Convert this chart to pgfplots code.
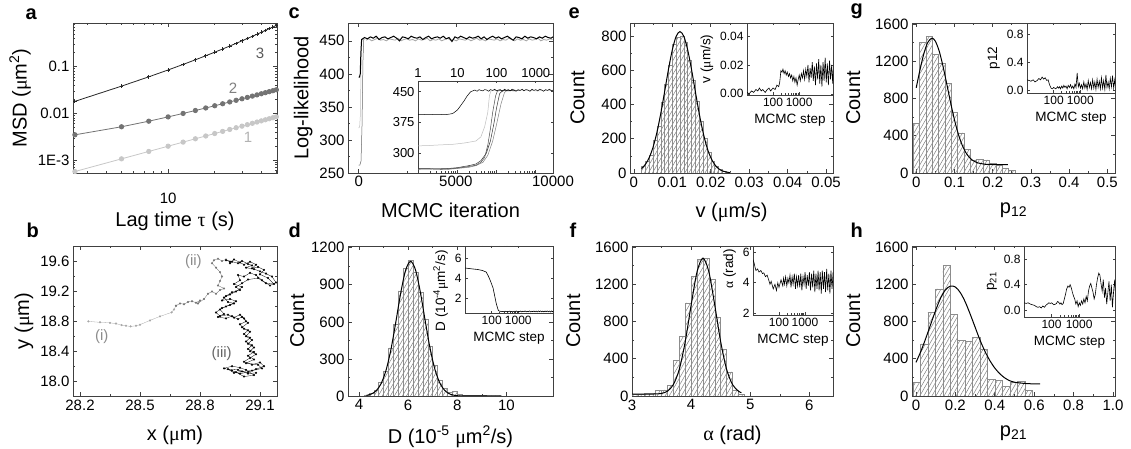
\documentclass[border=0pt]{standalone}
\usepackage{fontspec}
\setmainfont{Liberation Sans}
\newfontfamily\grk{Liberation Serif}
\usepackage{pgfplots}
\pgfplotsset{compat=1.18}
\usetikzlibrary{patterns.meta}

\newcommand{\um}{{\grk μ}m}

\pgfplotsset{
  fr/.style={
    scale only axis, anchor=north west,
    axis line style={black!75, line width=0.7pt},
    tick style={black!75, line width=0.6pt},
    tick align=inside, major tick length=4pt, minor tick length=2.2pt,
    tick label style={font=\fontsize{15}{16}\selectfont},
    label style={font=\fontsize{20}{22}\selectfont},
    /pgf/number format/assume math mode=true,
    /pgf/number format/1000 sep={},
    scaled ticks=false,
  },
  mn/.style={fr, xlabel shift=9pt},
  ins/.style={
    fr, axis background/.style={fill=white},
    tick label style={font=\fontsize{12}{13}\selectfont},
    label style={font=\fontsize{13.5}{14}\selectfont},
    major tick length=2.5pt, minor tick length=1.5pt,
  },
  mc/.style={ins, xmin=10, xmax=20000, xtick={100,1000},
    xticklabels={100,1000}, xlabel={MCMC step}},
  hist/.style={ybar interval, draw=black!45, line width=0.5pt,
    pattern={Lines[angle=60,distance=3.5pt,line width=0.5pt]}, pattern color=black!50},
  fit/.style={black, line width=1pt, smooth},
  tr/.style={black, line width=0.6pt},
  trj/.style={line width=0.3pt, mark=*, mark size=0.9pt},
}

\begin{document}
\begin{tikzpicture}
\path[use as bounding box] (0,0) rectangle (1131pt,449pt);

% panel letters
\begin{scope}[every node/.style={anchor=base west, font=\fontsize{20}{20}\selectfont\bfseries}]
\node at (22pt,429pt) {a};
\node at (285pt,430pt) {c};
\node at (565pt,430pt) {e};
\node at (847pt,434pt) {g};
\node at (23pt,211pt) {b};
\node at (285pt,211pt) {d};
\node at (566pt,211pt) {f};
\node at (847pt,211pt) {h};
\end{scope}

% ---------- a : MSD
\begin{axis}[fr, xlabel shift=2pt, at={(73pt,426pt)}, width=204pt, height=150pt,
  xmode=log, ymode=log, xmin=2.43, xmax=50.5, ymin=5.3e-4, ymax=0.86,
  xtick={10}, xticklabels={10}, minor xtick={3,4,5,6,7,8,9,20,30,40,50},
  ytick={0.001,0.01,0.1}, yticklabels={1E-3,0.01,0.1},
  minor ytick={6e-4,7e-4,8e-4,9e-4,0.002,0.003,0.004,0.005,0.006,0.007,0.008,0.009,0.02,0.03,0.04,0.05,0.06,0.07,0.08,0.09,0.2,0.3,0.4,0.5,0.6,0.7,0.8},
  xticklabel style={yshift=-16pt},
  xlabel={Lag time {\grk τ} (s)}, ylabel={MSD (\um\textsuperscript{2})}]
\addplot[black!22, line width=0.8pt, mark=*, mark size=2.2pt] coordinates {
(2.5,0.00057)(5,0.001064)(7.5,0.001533)(10,0.001986)(12.5,0.002428)(15,0.002861)(17.5,0.003286)(20,0.003705)(22.5,0.00412)(25,0.00453)(27.5,0.004935)(30,0.005337)(32.5,0.005736)(35,0.006132)(37.5,0.006525)(40,0.006915)(42.5,0.007303)(45,0.00769)(47.5,0.008073)(50,0.008453)};
\addplot[black!55, line width=0.8pt, mark=*, mark size=2.2pt] coordinates {
(2.5,0.00348)(5,0.00517)(7.5,0.00681)(10,0.00841)(12.5,0.00998)(15,0.01153)(17.5,0.01306)(20,0.01457)(22.5,0.01607)(25,0.01757)(27.5,0.01905)(30,0.02052)(32.5,0.02198)(35,0.02343)(37.5,0.02488)(40,0.02632)(42.5,0.02775)(45,0.02918)(47.5,0.0306)(50,0.03202)};
\addplot[black!85, line width=0.8pt, mark=+, mark size=1.8pt, mark options={line width=0.9pt}] coordinates {
(2.5,0.0181)(5,0.0383)(7.5,0.0606)(10,0.085)(12.5,0.1116)(15,0.1403)(17.5,0.1711)(20,0.204)(22.5,0.2391)(25,0.2763)(27.5,0.3156)(30,0.357)(32.5,0.4006)(35,0.4463)(37.5,0.4941)(40,0.544)(42.5,0.5961)(45,0.6503)(47.5,0.7066)(50,0.765)};
\node[text=black!65, font=\fontsize{15}{16}\selectfont] at (rel axis cs:0.917,0.80) {3};
\node[text=black!50, font=\fontsize{15}{16}\selectfont] at (rel axis cs:0.784,0.567) {2};
\node[text=black!30, font=\fontsize{15}{16}\selectfont] at (rel axis cs:0.858,0.24) {1};
\end{axis}

% ---------- c : log-likelihood
\begin{axis}[mn, at={(348pt,426pt)}, width=205pt, height=150pt,
  xmin=-550, xmax=10000, ymin=250, ymax=477,
  xtick={0,5000,10000}, ytick={250,300,350,400,450}, minor tick num=1,
  xlabel={MCMC iteration}, ylabel={Log-likelihood}]
\addplot[black!60, line width=0.5pt] coordinates {(0,262)(60,262)(120,268)(170,320)(220,420)(260,452)(300,453)};
\addplot[black!25, line width=0.5pt] coordinates {(0,318)(50,320)(90,340)(120,410)(150,452)(300,452)};
\addplot[black!35, line width=0.8pt] coordinates {
(375,451)(525,453)(675,450)(825,452)(975,454)(1125,451)(1275,452)(1425,450)(1575,453)(1725,452)
(1875,451)(2025,454)(2175,450)(2325,452)(2475,453)(2625,451)(2775,452)(2925,450)(3075,453)(3225,451)
(3375,452)(3525,454)(3675,450)(3825,452)(3975,451)(4125,453)(4275,450)(4425,452)(4575,454)(4725,451)
(4875,452)(5025,450)(5175,453)(5325,452)(5475,451)(5625,453)(5775,450)(5925,452)(6075,454)(6225,451)
(6375,452)(6525,450)(6675,453)(6825,452)(6975,451)(7125,453)(7275,450)(7425,452)(7575,451)(7725,454)
(7875,452)(8025,450)(8175,453)(8325,451)(8475,452)(8625,450)(8775,453)(8925,451)(9075,452)(9225,454)
(9375,450)(9525,452)(9675,451)(9825,453)(9975,452)};
\addplot[black, line width=1pt] coordinates {
(0,395)(40,395)(80,400)(110,430)(150,452)
(300,455)(450,453)(600,456)(750,454)(900,457)(1050,452)(1200,455)(1350,456)(1500,453)(1650,455)
(1800,457)(1950,454)(2100,450)(2250,456)(2400,455)(2550,453)(2700,457)(2850,455)(3000,454)(3150,456)
(3300,452)(3450,455)(3600,457)(3750,453)(3900,455)(4050,456)(4200,454)(4350,457)(4500,453)(4650,455)
(4800,449)(4950,456)(5100,454)(5250,457)(5400,455)(5550,453)(5700,456)(5850,454)(6000,455)(6150,457)
(6300,453)(6450,456)(6600,452)(6750,455)(6900,457)(7050,454)(7200,456)(7350,453)(7500,455)(7650,457)
(7800,454)(7950,451)(8100,456)(8250,455)(8400,453)(8550,457)(8700,454)(8850,456)(9000,455)(9150,453)
(9300,456)(9450,454)(9600,457)(9750,455)(9900,454)(10000,456)};
\end{axis}
\begin{axis}[ins, at={(418pt,368pt)}, width=135pt, height=92pt,
  xmode=log, xmin=1, xmax=2750, ymin=252, ymax=476,
  xtick={1,10,100,1000}, xticklabels={1,10,100,1000}, xticklabel pos=upper,
  ytick={300,375,450},
  tick label style={font=\fontsize{13}{14}\selectfont}]
\addplot[black!25, line width=0.5pt] coordinates {(1,318)(2,319)(3,320)(5,321)(8,322)(10,323)(15,325)(20,327)(30,330)(40,340)(50,365)(60,400)(66,440)(72,452)(100,453)(200,452)(500,454)(1000,452)(2750,453)};
\addplot[black!50, line width=0.5pt] coordinates {(1,261)(3,262)(6,261)(10,263)(20,266)(30,270)(45,278)(60,295)(80,330)(100,370)(130,420)(160,448)(180,452)(400,453)};
\addplot[black!80, line width=0.5pt] coordinates {(1,263)(3,262)(6,263)(10,265)(20,270)(30,274)(40,282)(55,300)(70,330)(85,370)(100,410)(120,445)(142,452)(300,454)};
\addplot[black!70, line width=0.5pt] coordinates {(1,262)(2,262)(4,261)(6,262)(8,263)(10,264)(15,266)(20,268)(30,271)(40,278)(50,290)(60,320)(70,360)(80,400)(95,440)(106,452)(150,453)(300,452)};
\addplot[black, line width=0.5pt] coordinates {
(1,395)(2,394)(3,395)(5,394)(7,396)(8,398)(10,405)(12,415)(15,428)(18,440)(22,450)
(25,452)(28,454)(32,451)(36,455)(40,453)(45,452)(50,455)(56,454)(63,451)(70,455)
(80,453)(90,456)(100,452)(112,454)(125,455)(140,451)(160,456)(180,453)(200,455)(225,452)
(250,456)(280,454)(315,451)(355,455)(400,453)(450,456)(500,452)(560,455)(630,454)(710,451)
(800,456)(900,453)(1000,455)(1120,452)(1260,456)(1410,454)(1580,451)(1780,455)(2000,453)(2240,456)
(2500,452)(2750,454)};
\end{axis}

% ---------- e : v histogram
\begin{axis}[mn, ylabel shift=10pt, at={(630pt,426pt)}, width=203pt, height=150pt,
  xmin=-0.001, xmax=0.0518, ymin=0, ymax=875,
  xtick={0,0.01,0.02,0.03,0.04,0.05}, xticklabels={0,0.01,0.02,0.03,0.04,0.05},
  ytick={0,200,400,600,800}, minor tick num=1,
  xlabel={v (\um/s)}, ylabel={Count}]
\addplot[hist] coordinates {
(0.002,40)(0.003,70)(0.004,105)(0.005,190)(0.006,270)(0.007,410)(0.008,520)(0.009,630)(0.010,750)(0.011,790)
(0.012,800)(0.013,760)(0.014,660)(0.015,540)(0.016,420)(0.017,300)(0.018,200)(0.019,120)(0.020,70)(0.021,40)
(0.022,20)(0.023,10)(0.024,5)(0.025,0)};
\addplot[fit] coordinates {
(0.002,26)(0.003,50)(0.004,90)(0.005,151)(0.006,237)(0.007,347)(0.008,474)(0.009,604)(0.010,718)(0.011,797)
(0.012,825)(0.013,797)(0.014,718)(0.015,604)(0.016,474)(0.017,347)(0.018,237)(0.019,151)(0.020,90)(0.021,50)
(0.022,26)(0.023,12)(0.024,6)(0.025,2)};
\end{axis}
\begin{axis}[mc, xmode=log, at={(747pt,426pt)}, width=86pt, height=72pt,
  ymin=-0.0008, ymax=0.049, ytick={0,0.02,0.04},
  yticklabel style={/pgf/number format/.cd, fixed, fixed zerofill, precision=2},
  ylabel={v (\um/s)}]
\addplot[tr] coordinates {
(10,0.001)(12,0.000)(15,0.002)(18,0.001)(22,0.003)(26,0.002)(30,0.004)(35,0.002)(40,0.003)(50,0.001)
(60,0.003)(70,0.004)(80,0.002)(100,0.004)(120,0.003)(140,0.006)(165,0.005)(180,0.008)(200,0.016)(220,0.015)
(240,0.017)(265,0.014)(290,0.016)(320,0.013)(350,0.015)(390,0.012)(430,0.014)(470,0.011)(520,0.013)(570,0.009)
(630,0.012)(690,0.008)(760,0.011)(840,0.006)(920,0.010)(1010,0.013)(1110,0.009)(1220,0.014)(1350,0.011)(1480,0.016)
(1630,0.010)(1800,0.017)(1980,0.012)(2180,0.020)(2400,0.008)(2640,0.018)(2900,0.011)(3200,0.022)(3500,0.009)(3850,0.019)
(4250,0.006)(4650,0.021)(5150,0.010)(5650,0.024)(6200,0.007)(6850,0.020)(7500,0.005)(8300,0.022)(9100,0.009)(10000,0.025)
(11000,0.008)(12100,0.021)(13300,0.006)(14700,0.023)(16100,0.010)(17800,0.020)(19500,0.007)(21500,0.024)};
\end{axis}

% ---------- g : p12 histogram
\begin{axis}[mn, ylabel shift=8pt, at={(912pt,426pt)}, width=203pt, height=150pt,
  xmin=-0.011, xmax=0.52, ymin=0, ymax=1610,
  xtick={0,0.1,0.2,0.3,0.4,0.5}, xticklabels={0,0.1,0.2,0.3,0.4,0.5},
  ytick={0,400,800,1200,1600}, minor tick num=1,
  xlabel={p\textsubscript{12}}, ylabel={Count}]
\addplot[hist] coordinates {
(-0.008,530)(0.0083,1400)(0.025,1470)(0.0417,1270)(0.0583,1180)(0.075,960)(0.0917,650)(0.1083,430)
(0.125,250)(0.1417,140)(0.1583,150)(0.175,140)(0.1917,100)(0.2083,80)(0.225,50)(0.2417,30)(0.2583,0)};
\addplot[fit] coordinates {
(0,914)(0.01,1110)(0.02,1281)(0.03,1400)(0.041,1448)(0.05,1415)(0.06,1310)(0.07,1147)(0.08,954)(0.09,755)
(0.1,572)(0.11,419)(0.12,302)(0.13,218)(0.14,163)(0.15,129)(0.16,110)(0.18,94)(0.2,91)(0.24,90)};
\end{axis}
\begin{axis}[mc, xmode=log, at={(1027pt,426pt)}, width=88pt, height=70pt,
  ymin=-0.04, ymax=0.97, ytick={0,0.4,0.8},
  yticklabel style={/pgf/number format/.cd, fixed, fixed zerofill, precision=1},
  ylabel={p12}]
\addplot[tr] coordinates {
(10,0.15)(12,0.14)(14,0.13)(17,0.15)(20,0.12)(24,0.14)(28,0.17)(32,0.15)(37,0.19)(42,0.16)
(48,0.18)(55,0.14)(62,0.15)(70,0.08)(80,0.03)(90,0.02)(100,0.04)(120,0.02)(140,0.05)(150,0.03)
(165,0.05)(180,0.02)(200,0.06)(220,0.03)(240,0.07)(265,0.04)(290,0.06)(320,0.02)(350,0.07)(390,0.04)
(430,0.08)(470,0.03)(520,0.06)(570,0.02)(630,0.09)(690,0.04)(760,0.25)(840,0.05)(920,0.10)(1010,0.03)
(1110,0.08)(1220,0.02)(1350,0.12)(1480,0.03)(1630,0.09)(1800,0.01)(1980,0.14)(2180,0.04)(2400,0.11)(2640,0.02)
(2900,0.15)(3200,0.03)(3500,0.12)(3850,0.01)(4250,0.16)(4650,0.04)(5150,0.13)(5650,0.02)(6200,0.18)(6850,0.03)
(7500,0.14)(8300,0.01)(9100,0.22)(10000,0.04)(11000,0.12)(12100,0.02)(13300,0.17)(14700,0.05)(16100,0.21)(17800,0.03)
(19500,0.15)(21500,0.02)};
\end{axis}

% ---------- b : trajectory
\begin{axis}[mn, at={(73pt,203pt)}, width=204pt, height=150pt,
  xmin=28.165, xmax=29.185, ymin=17.8, ymax=19.81,
  xtick={28.2,28.5,28.8,29.1}, ytick={18.0,18.4,18.8,19.2,19.6}, minor tick num=1,
  xticklabel style={/pgf/number format/.cd, fixed, fixed zerofill, precision=1},
  yticklabel style={/pgf/number format/.cd, fixed, fixed zerofill, precision=1},
  xlabel={x (\um)}, ylabel={y (\um)}]
\addplot[trj, black!35] coordinates {
(28.242,18.80)(28.30,18.787)(28.35,18.78)(28.38,18.77)(28.408,18.75)(28.43,18.74)(28.453,18.733)(28.48,18.74)
(28.50,18.756)(28.55,18.813)(28.60,18.867)(28.658,18.92)(28.67,18.96)(28.68,19.01)};
\addplot[trj, black!55] coordinates {
(28.68,19.01)(28.70,19.04)(28.72,19.03)(28.74,19.06)(28.76,19.07)(28.78,19.05)(28.80,19.08)(28.79,19.04)
(28.82,19.10)(28.84,19.17)(28.86,19.20)(28.88,19.17)(28.90,19.22)(28.92,19.24)(28.89,19.28)(28.90,19.34)
(28.91,19.40)(28.90,19.46)(28.88,19.52)(28.86,19.58)(28.87,19.62)(28.89,19.64)(28.91,19.61)(28.93,19.63)(28.95,19.60)};
\addplot[trj, black] coordinates {
(28.95,19.60)(28.93,19.62)(28.96,19.60)(28.99,19.58)(29.01,19.61)(29.04,19.57)(29.06,19.55)(29.03,19.52)
(29.07,19.50)(29.10,19.47)(29.13,19.44)(29.16,19.40)(29.18,19.32)(29.15,19.28)(29.11,19.35)(29.08,19.42)
(29.05,19.45)(29.02,19.40)(28.99,19.42)(29.00,19.35)(28.97,19.30)(29.01,19.26)(28.98,19.20)(28.95,19.16)
(28.92,19.12)(28.94,19.06)(28.97,19.04)(28.93,19.00)(28.90,18.96)(28.92,18.90)(28.89,18.86)(28.93,18.84)
(28.96,18.87)(28.99,18.83)(29.01,18.86)(29.03,18.80)(29.00,18.76)(29.02,18.70)(29.05,18.66)(29.03,18.60)
(29.06,18.55)(29.04,18.50)(29.07,18.45)(29.05,18.40)(29.08,18.36)(29.05,18.31)(29.02,18.26)(29.06,18.22)
(29.10,18.25)(29.12,18.20)(29.08,18.16)(29.04,18.12)(29.00,18.10)(28.96,18.14)(28.92,18.17)(28.96,18.20)
(29.00,18.18)(29.03,18.15)(29.07,18.08)(29.02,18.06)(28.98,18.12)};
\addplot[trj, black] coordinates {
(28.95,19.58)(28.97,19.63)(29.00,19.59)(29.02,19.56)(29.05,19.60)(29.08,19.56)(29.06,19.51)(29.09,19.53)
(29.12,19.49)(29.10,19.43)(29.14,19.38)(29.17,19.30)(29.13,19.31)(29.09,19.38)(29.04,19.36)(29.01,19.31)
(28.98,19.26)(29.00,19.22)(28.96,19.19)(28.93,19.14)(28.91,19.08)(28.95,19.10)(28.98,19.07)(28.95,19.02)
(28.91,18.98)(28.88,18.92)(28.90,18.87)(28.94,18.89)(28.97,18.85)(29.00,18.89)(29.02,18.84)(29.04,18.78)
(29.01,18.72)(29.04,18.68)(29.02,18.63)(29.05,18.58)(29.03,18.53)(29.06,18.48)(29.04,18.43)(29.07,18.39)
(29.04,18.34)(29.07,18.29)(29.03,18.24)(29.09,18.22)(29.11,18.17)(29.06,18.14)(29.01,18.13)(28.97,18.11)
(28.94,18.16)(28.99,18.15)(29.04,18.10)(29.08,18.11)};
\node[text=black!45, font=\fontsize{15}{16}\selectfont] at (rel axis cs:0.141,0.395) {(i)};
\node[text=black!45, font=\fontsize{15}{16}\selectfont] at (rel axis cs:0.59,0.895) {(ii)};
\node[text=black!60, font=\fontsize{15}{16}\selectfont] at (rel axis cs:0.729,0.285) {(iii)};
\end{axis}

% ---------- d : D histogram
\begin{axis}[mn, at={(348pt,203pt)}, width=205pt, height=150pt,
  xmin=3.55, xmax=11.9, ymin=0, ymax=1214,
  xtick={4,6,8,10}, ytick={0,300,600,900,1200}, minor tick num=1,
  xlabel={D (10\textsuperscript{-5} \um\textsuperscript{2}/s)}, ylabel={Count}]
\addplot[hist] coordinates {
(4.2,8)(4.4,20)(4.6,45)(4.8,110)(5.0,200)(5.2,390)(5.4,580)(5.6,850)(5.8,1030)(6.0,1100)
(6.2,1000)(6.4,840)(6.6,620)(6.8,400)(7.0,250)(7.2,130)(7.4,60)(7.6,30)(7.8,35)(8.0,12)
(8.2,6)(8.4,4)(8.6,3)(8.8,2)(9.0,2)(9.2,1)(9.4,1)(9.6,1)(9.8,0)};
\addplot[fit] coordinates {
(4.3,5)(4.5,16)(4.7,43)(4.9,101)(5.1,209)(5.3,378)(5.5,601)(5.7,837)(5.9,1020)(6.1,1090)
(6.3,1020)(6.5,837)(6.7,601)(6.9,378)(7.1,209)(7.3,101)(7.5,43)(7.7,16)(7.9,5)(8.2,1)(9.8,0)};
\end{axis}
\begin{axis}[mc, xmode=log, at={(465pt,203pt)}, width=88pt, height=67pt,
  ymin=0.5, ymax=7.2, ytick={2,4,6},
  ylabel={D (10\textsuperscript{-4}\um\textsuperscript{2}/s)},
  ylabel style={at={(ticklabel cs:0.33)}}]
\addplot[tr] coordinates {
(10,5.0)(20,4.9)(30,4.85)(45,4.75)(62,4.6)(75,4.2)(90,3.7)(113,3.0)(130,2.2)(150,1.4)
(178,0.75)(200,0.68)(220,0.66)(240,0.63)(265,0.66)(290,0.62)(320,0.68)(350,0.63)(390,0.67)(430,0.62)
(470,0.69)(520,0.63)(570,0.66)(630,0.61)(690,0.68)(760,0.64)(840,0.70)(920,0.62)(1010,0.67)(1110,0.63)
(1220,0.69)(1350,0.61)(1480,0.68)(1630,0.64)(1800,0.70)(1980,0.62)(2180,0.67)(2400,0.63)(2640,0.71)(2900,0.61)
(3200,0.68)(3500,0.63)(3850,0.70)(4250,0.62)(4650,0.69)(5150,0.61)(5650,0.70)(6200,0.63)(6850,0.71)(7500,0.62)
(8300,0.69)(9100,0.61)(10000,0.70)(11000,0.63)(12100,0.71)(13300,0.62)(14700,0.69)(16100,0.61)(17800,0.70)(19500,0.63)
(21500,0.71)};
\end{axis}

% ---------- f : alpha histogram
\begin{axis}[mn, ylabel shift=8pt, at={(632pt,203pt)}, width=201pt, height=150pt,
  xmin=3, xmax=6.4, ymin=0, ymax=1610,
  xtick={3,4,5,6}, ytick={0,400,800,1200,1600}, minor tick num=1,
  xlabel={{\grk α} (rad)}, ylabel={Count}]
\addplot[hist] coordinates {
(3.0,20)(3.1,22)(3.2,25)(3.3,30)(3.4,60)(3.5,65)(3.6,110)(3.7,380)(3.8,640)(3.9,1000)
(4.0,1280)(4.1,1470)(4.2,1480)(4.3,1250)(4.4,850)(4.5,500)(4.6,260)(4.7,60)(4.8,20)(4.9,0)};
\addplot[fit] coordinates {
(3.0,20)(3.2,20)(3.4,22)(3.5,28)(3.6,52)(3.7,123)(3.8,287)(3.9,582)(4.0,975)(4.1,1333)
(4.2,1480)(4.3,1333)(4.4,975)(4.5,582)(4.6,287)(4.7,123)(4.8,52)(4.85,36)};
\end{axis}
\begin{axis}[mc, xmode=log, xmax=12000, at={(753pt,203pt)}, width=80pt, height=69pt,
  ymin=1.9, ymax=6.4, ytick={2,4,6},
  ylabel={{\grk α} (rad)}, ylabel style={at={(ticklabel cs:0.67)}}]
\addplot[tr] coordinates {
(10,5.5)(11,5.3)(12,5.0)(13,4.8)(15,4.9)(17,4.7)(20,4.8)(23,4.6)(26,4.65)(30,4.4)
(35,4.5)(40,4.2)(45,3.9)(50,4.1)(60,3.6)(70,3.9)(80,3.5)(90,4.0)(100,3.7)(120,4.2)
(140,3.8)(150,4.3)(165,3.9)(180,4.4)(200,3.8)(220,4.3)(240,4.0)(265,4.5)(290,3.7)(320,4.4)
(350,3.9)(390,4.6)(430,3.6)(470,4.4)(520,3.8)(570,4.5)(630,3.7)(690,4.6)(760,3.5)(840,4.4)
(920,3.9)(1010,4.7)(1110,3.6)(1220,4.5)(1350,3.8)(1480,4.7)(1630,3.5)(1800,4.6)(1980,3.7)(2180,4.8)
(2400,3.4)(2640,4.6)(2900,3.6)(3200,4.8)(3500,3.5)(3850,4.7)(4250,3.3)(4650,4.8)(5150,3.6)(5650,4.7)
(6200,3.4)(6850,4.9)(7500,3.5)(8300,4.6)(9100,3.3)(10000,4.8)(11000,3.6)(12100,4.7)};
\end{axis}

% ---------- h : p21 histogram
\begin{axis}[mn, ylabel shift=8pt, at={(912pt,203pt)}, width=203pt, height=150pt,
  xmin=-0.02, xmax=1.01, ymin=0, ymax=1610,
  xtick={0,0.2,0.4,0.6,0.8,1.0}, xticklabels={0,0.2,0.4,0.6,0.8,1.0},
  ytick={0,400,800,1200,1600}, minor tick num=1,
  xlabel={p\textsubscript{21}}, ylabel={Count}]
\addplot[hist] coordinates {
(-0.016,150)(0.022,560)(0.060,900)(0.098,1150)(0.136,1400)(0.174,880)(0.212,600)(0.250,590)
(0.288,630)(0.326,500)(0.364,180)(0.402,170)(0.440,100)(0.478,150)(0.516,155)(0.554,60)(0.592,0)};
\addplot[fit] coordinates {
(0,360)(0.025,480)(0.05,620)(0.075,770)(0.1,920)(0.125,1050)(0.15,1140)(0.175,1180)(0.2,1170)(0.225,1110)
(0.25,1010)(0.275,880)(0.3,740)(0.325,600)(0.35,480)(0.375,380)(0.4,300)(0.425,240)(0.45,195)(0.475,165)
(0.5,148)(0.55,135)(0.6,130)(0.63,130)};
\end{axis}
\begin{axis}[mc, xmode=log, at={(1024pt,203pt)}, width=91pt, height=71pt,
  ymin=-0.1, ymax=1.0, ytick={0,0.4,0.8},
  yticklabel style={/pgf/number format/.cd, fixed, fixed zerofill, precision=1},
  ylabel={p\textsubscript{21}}]
\addplot[tr] coordinates {
(10,0.12)(12,0.11)(14,0.12)(17,0.10)(20,0.09)(24,0.08)(28,0.06)(32,0.05)(37,0.06)(42,0.04)
(48,0.07)(55,0.05)(62,0.08)(70,0.10)(80,0.12)(90,0.11)(100,0.12)(120,0.09)(140,0.10)(150,0.11)
(165,0.14)(180,0.13)(200,0.10)(220,0.12)(240,0.09)(265,0.11)(290,0.18)(320,0.25)(350,0.33)(390,0.38)
(430,0.36)(470,0.40)(520,0.35)(570,0.28)(630,0.22)(690,0.18)(760,0.10)(840,0.15)(920,0.06)(1010,0.12)
(1110,0.08)(1220,0.15)(1350,0.10)(1480,0.18)(1630,0.12)(1800,0.22)(1980,0.15)(2180,0.30)(2400,0.38)(2640,0.42)
(2900,0.35)(3200,0.28)(3500,0.18)(3850,0.25)(4250,0.40)(4650,0.50)(5150,0.58)(5650,0.55)(6200,0.42)(6850,0.30)
(7500,0.48)(8300,0.20)(9100,0.35)(10000,0.10)(11000,0.28)(12100,0.45)(13300,0.15)(14700,0.40)(16100,0.05)(17800,0.30)
(19500,0.48)(21500,0.12)};
\end{axis}
\end{tikzpicture}
\end{document}
